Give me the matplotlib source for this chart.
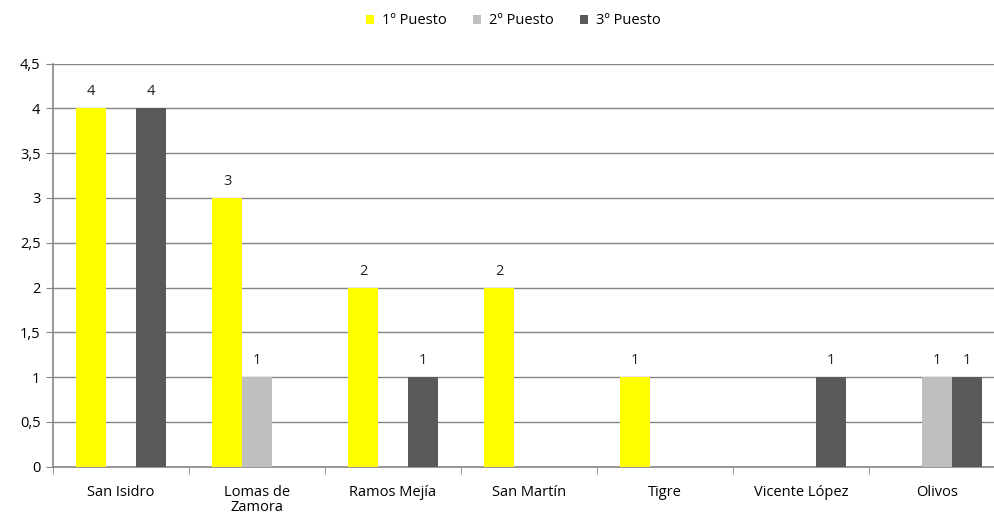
import numpy as np
import matplotlib.pyplot as plt
from matplotlib.ticker import FuncFormatter

categorias = ['San Isidro', 'Lomas de\nZamora', 'Ramos Mejía', 'San Martín', 'Tigre', 'Vicente López', 'Olivos']
primero = [4, 3, 2, 2, 1, 0, 0]
segundo = [0, 1, 0, 0, 0, 0, 1]
tercero = [4, 0, 1, 0, 0, 1, 1]
series = ['1º Puesto', '2º Puesto', '3º Puesto']
colores = ['#FFFF00', '#BFBFBF', '#595959']

plt.rcParams['font.family'] = ['Open Sans', 'DejaVu Sans']

fig = plt.figure(figsize=(9.94, 5.16), dpi=100)
# el grafico original esta recortado a la derecha
ax = fig.add_axes([53 / 994, 49.3 / 516, 952 / 994, 403.2 / 516])

x = np.arange(len(categorias))
ancho = 0.22
for i, (vals, nombre, col) in enumerate(zip([primero, segundo, tercero], series, colores)):
    pos = x + (i - 1) * ancho
    barras = ax.bar(pos, vals, width=ancho, color=col, label=nombre, zorder=3)
    for b, v in zip(barras, vals):
        if v > 0:
            ax.text(b.get_x() + b.get_width() / 2, v + 0.1, str(v),
                    ha='center', va='bottom', fontsize=10.5, color='#222222')

ax.set_xlim(-0.5, len(categorias) - 0.5)
ax.set_ylim(0, 4.5)
ax.set_yticks(np.arange(0, 4.51, 0.5))
ax.yaxis.set_major_formatter(FuncFormatter(lambda v, p: ('%g' % v).replace('.', ',')))
ax.set_xticks(x)
ax.set_xticklabels(categorias, fontsize=10.5, linespacing=1.05)
ax.set_xticks(np.arange(-0.5, len(categorias), 1), minor=True)
ax.tick_params(axis='x', which='major', length=0, pad=13)
ax.tick_params(axis='x', which='minor', length=5, color='#868686', direction='out')
ax.tick_params(axis='y', length=5, color='#868686', labelsize=10.5, pad=4)

ax.grid(axis='y', color='#868686', linewidth=1, zorder=0)
for s in ['top', 'right']:
    ax.spines[s].set_visible(False)
for s in ['left', 'bottom']:
    ax.spines[s].set_color('#868686')
    ax.spines[s].set_linewidth(1.2)

fig.legend(loc='center', bbox_to_anchor=(513 / 994, 1 - 21 / 516), ncol=3, frameon=False,
           fontsize=10.5, handlelength=0.6, handleheight=0.6, handletextpad=0.5, columnspacing=1.8)

fig.savefig('out.png', dpi=100)
